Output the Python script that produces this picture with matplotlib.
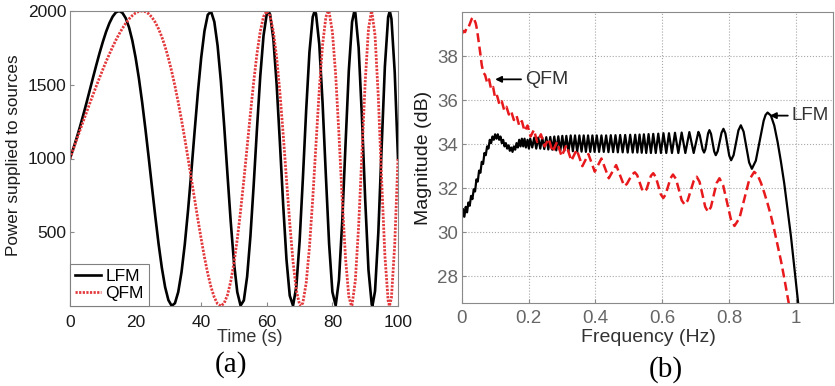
import matplotlib
matplotlib.use('Agg')
import matplotlib.pyplot as plt

plt.rcParams['font.family'] = ['Liberation Sans', 'DejaVu Sans']

# ---------------- (a) power supplied to sources ----------------
t_lfm = [0, 1, 2, 3, 4, 5, 6, 7, 8, 9, 10, 11, 12, 13, 14, 15, 16, 17, 18, 19,
         20, 21, 22, 23, 24, 25, 26, 27, 28, 29, 30, 31, 32, 33, 34, 35, 36, 37, 38, 39,
         40, 41, 42, 43, 44, 45, 46, 47, 48, 49, 50, 51, 52, 53, 54, 55, 56, 57, 58, 59,
         60, 60.5, 61, 62, 63, 64, 65, 66, 67, 68, 69, 70, 71, 72, 73, 74, 74.6, 75, 76, 77,
         78, 79, 80, 81, 82, 83, 84, 85, 86, 86.7, 87, 88, 89, 90, 91, 92, 92.2, 93, 94, 95,
         96, 97, 97.5, 98, 99, 100]
p_lfm = [1000, 1066, 1137, 1212, 1292, 1375, 1461, 1547, 1632, 1714, 1790, 1859, 1917, 1962, 1991, 2000, 1987, 1951, 1889, 1800,
         1684, 1544, 1381, 1199, 1005, 805, 608, 422, 259, 128, 40, 1, 19, 95, 230, 419, 651, 912, 1186, 1451,
         1684, 1865, 1974, 1997, 1927, 1765, 1524, 1224, 895, 572, 293, 94, 3, 38, 199, 471, 820, 1200, 1556, 1832,
         1982, 2000, 1977, 1810, 1503, 1105, 683, 315, 70, 2, 131, 438, 865, 1326, 1721, 1959, 2000, 1981, 1774, 1379,
         888, 420, 95, 3, 176, 575, 1095, 1594, 1926, 2000, 1987, 1751, 1282, 721, 244, 9, 0, 101, 497, 1071,
         1624, 1959, 2000, 1947, 1585, 1000]

t_qfm = [0, 1, 2, 3, 4, 5, 6, 7, 8, 9, 10, 11, 12, 13, 14, 15, 16, 17, 18, 19,
         20, 21, 22, 23, 24, 25, 26, 27, 28, 29, 30, 31, 32, 33, 34, 35, 36, 37, 38, 39,
         40, 41, 42, 43, 44, 45, 46, 47, 48, 49, 50, 51, 52, 53, 54, 55, 56, 57, 58, 59,
         60, 61, 62, 63, 64, 65, 66, 67, 68, 69, 70, 70.4, 71, 72, 73, 74, 75, 76, 77, 78,
         78.7, 79, 80, 81, 82, 83, 84, 85, 85.8, 86, 87, 88, 89, 90, 91, 91.9, 92, 93, 94, 95,
         96, 97, 97.4, 98, 99, 100]
p_qfm = [1000, 1063, 1126, 1188, 1250, 1311, 1372, 1432, 1490, 1547, 1603, 1657, 1708, 1757, 1803, 1845, 1883, 1917, 1946, 1969,
         1987, 1997, 2000, 1995, 1981, 1957, 1923, 1879, 1824, 1758, 1680, 1591, 1491, 1381, 1261, 1134, 1000, 862, 723, 586,
         454, 330, 220, 128, 58, 14, 0, 19, 74, 166, 293, 453, 643, 854, 1078, 1304, 1519, 1710, 1862, 1962,
         2000, 1967, 1861, 1684, 1446, 1163, 859, 561, 300, 107, 9, 0, 22, 155, 397, 725, 1098, 1465, 1769, 1958,
         2000, 1993, 1858, 1566, 1162, 719, 324, 65, 0, 7, 175, 543, 1031, 1520, 1879, 2000, 1999, 1834, 1416, 861,
         343, 35, 0, 56, 417, 1000]

# ---------------- (b) magnitude spectra ----------------
f_lfm = [0.000, 0.004, 0.008, 0.012, 0.016, 0.020, 0.024, 0.028, 0.032, 0.036,
         0.040, 0.044, 0.048, 0.052, 0.056, 0.060, 0.064, 0.068, 0.072, 0.076,
         0.080, 0.084, 0.088, 0.092, 0.096, 0.100, 0.104, 0.108, 0.112, 0.116,
         0.120, 0.124, 0.128, 0.132, 0.136, 0.140, 0.144, 0.148, 0.152, 0.156,
         0.160, 0.164, 0.168, 0.172, 0.176, 0.180, 0.184, 0.188, 0.192, 0.197,
         0.201, 0.205, 0.211, 0.217, 0.223, 0.229, 0.235, 0.241, 0.247, 0.253,
         0.259, 0.265, 0.271, 0.277, 0.283, 0.289, 0.295, 0.301, 0.307, 0.313,
         0.3195, 0.326, 0.3325, 0.339, 0.3455, 0.352, 0.3585, 0.365, 0.3715, 0.378,
         0.3845, 0.391, 0.3975, 0.404, 0.411, 0.418, 0.425, 0.432, 0.439, 0.446,
         0.453, 0.460, 0.467, 0.474, 0.4815, 0.489, 0.4965, 0.504, 0.5115, 0.519,
         0.5255, 0.532, 0.5385, 0.545, 0.552, 0.559, 0.566, 0.573, 0.5805, 0.588,
         0.596, 0.6035, 0.612, 0.620, 0.629, 0.638, 0.648, 0.658, 0.6635, 0.669,
         0.675, 0.681, 0.6875, 0.694, 0.701, 0.708, 0.712, 0.7165, 0.7208, 0.725,
         0.729, 0.733, 0.737, 0.741, 0.7458, 0.7505, 0.7553, 0.760, 0.7658, 0.7715,
         0.7773, 0.783, 0.7888, 0.7945, 0.8003, 0.806, 0.8133, 0.8205, 0.8278, 0.835,
         0.8433, 0.8515, 0.8598, 0.868, 0.8798, 0.8915, 0.9033, 0.909, 0.915, 0.925,
         0.935, 0.945, 0.955, 0.965, 0.975, 0.985, 0.995, 1.005, 1.012]
db_lfm = [30.55, 31.05, 30.7, 31.15, 30.9, 31.35, 31.2, 31.65, 31.5, 31.95,
          31.85, 32.4, 32.3, 32.8, 32.7, 33.2, 33.1, 33.6, 33.5, 33.9,
          33.8, 34.2, 34.05, 34.35, 34.2, 34.45, 34.25, 34.45, 34.2, 34.35,
          34.05, 34.2, 33.9, 34.05, 33.8, 33.95, 33.7, 33.85, 33.65, 33.9,
          33.75, 34.05, 33.85, 34.2, 33.9, 34.25, 33.9, 34.25, 33.85, 34.2,
          33.8, 34.25, 33.85, 34.3, 33.8, 34.3, 33.8, 34.3, 33.78, 34.32,
          33.76, 34.33, 33.75, 34.35, 33.72, 34.36, 33.7, 34.38, 33.7, 34.38,
          33.68, 34.4, 33.68, 34.4, 33.66, 34.4, 33.66, 34.4, 33.65, 34.4,
          33.65, 34.4, 33.65, 34.4, 33.65, 34.4, 33.65, 34.4, 33.64, 34.41,
          33.64, 34.41, 33.63, 34.42, 33.63, 34.42, 33.62, 34.43, 33.62, 34.43,
          33.62, 34.44, 33.61, 34.45, 33.6, 34.46, 33.6, 34.47, 33.6, 34.48,
          33.6, 34.5, 33.6, 34.5, 33.6, 34.52, 33.6, 34.53, 34.07, 33.6,
          34.08, 34.55, 34.08, 33.6, 34.08, 34.56, 34.42, 34.09, 33.76, 33.62,
          33.77, 34.13, 34.49, 34.64, 34.47, 34.07, 33.67, 33.5, 33.68, 34.1,
          34.52, 34.7, 34.49, 33.99, 33.48, 33.27, 33.5, 34.07, 34.63, 34.86,
          34.57, 33.87, 33.17, 32.88, 33.25, 34.16, 35.07, 35.33, 35.44, 35.3,
          34.85, 34.1, 33.2, 32.2, 31.0, 29.8, 28.4, 27.0, 26.0]

f_qfm = [0.000, 0.005, 0.010, 0.015, 0.020, 0.025, 0.030, 0.034, 0.038, 0.042,
         0.046, 0.050, 0.055, 0.060, 0.065, 0.070, 0.076, 0.082, 0.088, 0.094,
         0.100, 0.106, 0.113, 0.120, 0.127, 0.134, 0.141, 0.148, 0.156, 0.164,
         0.172, 0.180, 0.188, 0.197, 0.206, 0.216, 0.226, 0.237, 0.248, 0.260,
         0.272, 0.285, 0.299, 0.313, 0.328, 0.344, 0.361, 0.379, 0.398, 0.418,
         0.440, 0.462, 0.486, 0.494, 0.502, 0.510, 0.518, 0.525, 0.532, 0.539,
         0.546, 0.553, 0.5595, 0.566, 0.573, 0.5805, 0.588, 0.5955, 0.603, 0.610,
         0.6175, 0.625, 0.632, 0.641, 0.6495, 0.658, 0.667, 0.676, 0.685, 0.694,
         0.703, 0.7115, 0.720, 0.7285, 0.737, 0.7455, 0.754, 0.7625, 0.771, 0.782,
         0.7935, 0.805, 0.816, 0.831, 0.8455, 0.860, 0.875, 0.885, 0.895, 0.905,
         0.915, 0.925, 0.935, 0.945, 0.955, 0.965, 0.975, 0.985]
db_qfm = [39.0, 39.15, 39.1, 39.3, 39.3, 39.5, 39.7, 39.78, 39.65, 39.5,
          39.2, 38.75, 38.2, 37.6, 37.25, 37.15, 36.8, 36.95, 36.5, 36.6,
          36.1, 36.2, 35.8, 35.95, 35.55, 35.7, 35.35, 35.5, 35.1, 35.3,
          34.85, 35.05, 34.6, 34.85, 34.35, 34.65, 34.1, 34.45, 33.9, 34.25,
          33.65, 34.1, 33.45, 33.95, 33.25, 33.75, 33.0, 33.55, 32.75, 33.35,
          32.45, 33.05, 32.1, 32.19, 32.41, 32.63, 32.72, 32.59, 32.28, 31.96,
          31.83, 31.95, 32.26, 32.56, 32.68, 32.51, 32.12, 31.72, 31.55, 31.71,
          32.09, 32.46, 32.62, 32.42, 31.94, 31.45, 31.25, 31.44, 31.89, 32.33,
          32.52, 32.29, 31.72, 31.15, 30.92, 31.14, 31.69, 32.23, 32.45, 32.13,
          31.37, 30.6, 30.28, 30.64, 31.51, 32.38, 32.74, 32.6, 32.25, 31.8,
          31.3, 30.75, 30.1, 29.4, 28.7, 27.9, 27.05, 26.2]

W, H = 835, 386
fig = plt.figure(figsize=(W / 100, H / 100), dpi=100)

def px(x, y):
    return x / W, 1 - y / H

spine_c = '#8a8a8a'

# ---- panel (a)
ax1 = fig.add_axes([70 / W, 1 - 306 / H, 328 / W, 295 / H])
ax1.plot(t_lfm, p_lfm, color='black', lw=1.9, label='LFM')
ax1.plot(t_qfm, p_qfm, color='#e3393c', lw=2.0, ls=(0, (0.8, 0.5)), label='QFM')
ax1.set_xlim(0, 100)
ax1.set_ylim(0, 2000)
ax1.set_xticks([0, 20, 40, 60, 80, 100])
ax1.set_yticks([500, 1000, 1500, 2000])
ax1.tick_params(direction='in', length=3, color=spine_c, labelsize=12.5,
                labelcolor='#1a1a1a')
ax1.tick_params(axis='x', pad=6.5)
ax1.tick_params(axis='y', pad=2.5)
for s in ax1.spines.values():
    s.set_color(spine_c)
    s.set_linewidth(0.8)
leg = ax1.legend(loc='lower left', bbox_to_anchor=(0, 0), borderaxespad=0,
                 fontsize=12.5, fancybox=False, framealpha=1, edgecolor='#808080',
                 handlelength=1.5, handletextpad=0.25, borderpad=0.3,
                 labelspacing=0.1)
leg.get_frame().set_linewidth(0.8)

fig.text(*px(250, 338), 'Time (s)', ha='center', va='center', fontsize=13,
         color='#333333')
fig.text(*px(13.5, 155), 'Power supplied to sources', ha='center', va='center',
         rotation=90, fontsize=12.3, color='#1a1a1a')
fig.text(*px(231, 365), '(a)', ha='center', va='center', fontsize=21,
         family=['Liberation Serif', 'DejaVu Serif'])

# ---- panel (b)
ax2 = fig.add_axes([461.7 / W, 1 - 302.7 / H, 371.6 / W, 290.4 / H])
ax2.plot(f_lfm, db_lfm, color='black', lw=1.6)
ax2.plot(f_qfm, db_qfm, color='#e8191c', lw=1.8, ls='--', dashes=(3.6, 1.8))
ax2.set_xlim(0, 1.1116)
ax2.set_ylim(26.79, 40)
ax2.set_xticks([0, 0.2, 0.4, 0.6, 0.8, 1.0])
ax2.set_xticklabels(['0', '0.2', '0.4', '0.6', '0.8', '1'])
ax2.set_yticks([28, 30, 32, 34, 36, 38])
ax2.grid(True, ls=':', color='#a8a8a8', lw=0.8)
ax2.tick_params(direction='in', length=3, color=spine_c, labelsize=13.5,
                labelcolor='#666666')
ax2.tick_params(axis='x', pad=5.3)
ax2.tick_params(axis='y', pad=2.7)
for s in ax2.spines.values():
    s.set_color(spine_c)
    s.set_linewidth(0.8)

arrow = dict(arrowstyle='-|>', color='black', lw=1.3, mutation_scale=9,
             shrinkA=1, shrinkB=0)
ax2.annotate('QFM', xy=(0.10, 36.95), xytext=(0.19, 36.95), ha='left',
             va='center', fontsize=14, color='#333333', arrowprops=arrow)
ax2.annotate('LFM', xy=(0.922, 35.3), xytext=(0.988, 35.3), ha='left',
             va='center', fontsize=13.5, color='#333333', arrowprops=arrow)

fig.text(*px(648, 337), 'Frequency (Hz)', ha='center', va='center', fontsize=14,
         color='#333333')
fig.text(*px(423.5, 158), 'Magnitude (dB)', ha='center', va='center',
         rotation=90, fontsize=14, color='#1a1a1a')
fig.text(*px(666, 370), '(b)', ha='center', va='center', fontsize=21,
         family=['Liberation Serif', 'DejaVu Serif'])

fig.savefig('out.png', dpi=100)
